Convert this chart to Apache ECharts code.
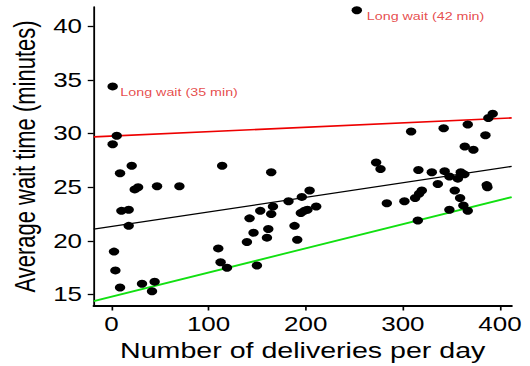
<!DOCTYPE html>
<html>
<head>
<meta charset="utf-8">
<script src="https://cdn.jsdelivr.net/npm/echarts@6/dist/echarts.min.js"></script>
<style>
  html, body { margin: 0; padding: 0; background: #fff; overflow: hidden; }
  /* the reference picture is stretched sideways, so draw narrow and widen */
  #chart { width: 408px; height: 366px; transform: scaleX(1.299); transform-origin: 0 0; }
</style>
</head>
<body>
<div id="chart"></div>
<script>
// deliveries per day
const deliveries = [
  1.3, 5.5, 1.3, 20.9, 8.9, 114, 24, 27.5, 47, 70,
  10.3, 17.8, 17.8, 2.7, 4.1, 8.9, 31.5, 44.5, 41.8, 110,
  112.4, 119, 164.5, 204, 196, 182.3, 166.3, 153.2, 142.2, 164.5,
  210.8, 201.8, 198.5, 195, 146.3, 161.5, 188.5, 160.1, 139.5, 191.3,
  149.8, 392.5, 388, 308.5, 342, 366.8, 385, 363.7, 372.6, 272.5,
  277, 316, 329.8, 343, 347.9, 356.6, 359.6, 363.3, 336, 353.4,
  358.9, 362.3, 366.8, 347.9, 319.5, 316.7, 312.6, 301.6, 283.5, 386.3,
  387, 315.4, 252.6
];
// average wait time (minutes)
const waitTimes = [
  34.4, 29.8, 29.0, 27.0, 26.3, 27.0, 24.8, 25.0, 25.1, 25.1,
  22.8, 22.9, 21.4, 19.0, 17.25, 15.65, 16.0, 16.2, 15.3, 19.3,
  18.0, 17.5, 26.4, 24.7, 24.1, 23.7, 23.2, 22.8, 22.1, 22.5,
  23.2, 22.9, 22.8, 22.6, 20.75, 21.1, 21.4, 20.3, 19.9, 20.1,
  17.7, 31.85, 31.45, 30.2, 30.5, 30.85, 29.85, 28.8, 28.5, 27.3,
  26.7, 26.6, 26.4, 26.5, 26.0, 25.8, 26.4, 26.2, 25.3, 24.7,
  24.0, 23.3, 22.8, 22.9, 24.7, 24.4, 24.0, 23.7, 23.5, 25.2,
  25.0, 21.9, 41.5
];

// fitted lines, end points at the axis limits
const upperLine = [[-18.2, 29.70], [412, 31.46]];
const middleLine = [[-18.2, 21.09], [412, 26.94]];
const lowerLine = [[-18.2, 14.39], [412, 24.08]];

// labels for the two outliers
const noteText = ['Long wait (35 min)', 'Long wait (42 min)'];
const noteX = [8.5, 262.2];
const noteY = [33.86, 40.92];

const xTicks = [0, 100, 200, 300, 400];
const yTicks = [15, 20, 25, 30, 35, 40];

const font = '"Liberation Sans", Arial, sans-serif';

const myChart = echarts.init(document.getElementById('chart'), null, {renderer: 'svg'});
myChart.setOption({
  animation: false,
  backgroundColor: '#fff',
  textStyle: {fontFamily: font},
  grid: {left: 71.8, right: 14.1, top: 7, bottom: 56.7, containLabel: false},
  xAxis: {
    type: 'value',
    min: -18.2,
    max: 412,
    name: 'Number of deliveries per day',
    nameLocation: 'middle',
    nameGap: 33,
    nameTextStyle: {fontSize: 22, color: '#000', fontFamily: font},
    axisLine: {show: true, onZero: false, lineStyle: {color: '#000', width: 1.8}},
    axisTick: {show: true, length: 4.5, customValues: xTicks, lineStyle: {color: '#000', width: 1.3}},
    axisLabel: {fontSize: 20, color: '#000', margin: 8, customValues: xTicks, fontFamily: font},
    splitLine: {show: false}
  },
  yAxis: {
    type: 'value',
    min: 13.93,
    max: 41.8,
    name: 'Average wait time (minutes)',
    nameLocation: 'middle',
    nameGap: 41,
    nameTextStyle: {fontSize: 22, color: '#000', fontFamily: font},
    axisLine: {show: true, onZero: false, lineStyle: {color: '#000', width: 1.4}},
    axisTick: {show: true, length: 4.6, customValues: yTicks, lineStyle: {color: '#000', width: 1.3}},
    axisLabel: {fontSize: 20, color: '#000', margin: 9, customValues: yTicks, fontFamily: font},
    splitLine: {show: false}
  },
  series: [
    {
      type: 'line',
      data: upperLine,
      symbol: 'none',
      lineStyle: {color: '#ee0000', width: 1.7},
      z: 1
    },
    {
      type: 'line',
      data: middleLine,
      symbol: 'none',
      lineStyle: {color: '#000', width: 1.3},
      z: 1
    },
    {
      type: 'line',
      data: lowerLine,
      symbol: 'none',
      lineStyle: {color: '#11e011', width: 1.8},
      z: 1
    },
    {
      type: 'scatter',
      data: deliveries.map((d, i) => [d, waitTimes[i]]),
      symbol: 'circle',
      symbolSize: 8,
      itemStyle: {color: '#000', opacity: 1},
      z: 3
    },
    {
      type: 'scatter',
      data: noteText.map((t, i) => ({name: t, value: [noteX[i], noteY[i]]})),
      symbol: 'circle',
      symbolSize: 1,
      itemStyle: {color: 'rgba(0,0,0,0)'},
      label: {
        show: true,
        position: 'right',
        distance: 0,
        formatter: (p) => p.name,
        color: '#e02020',
        fontSize: 11,
        fontFamily: font
      },
      emphasis: {disabled: true},
      z: 4
    }
  ]
});
</script>
</body>
</html>
